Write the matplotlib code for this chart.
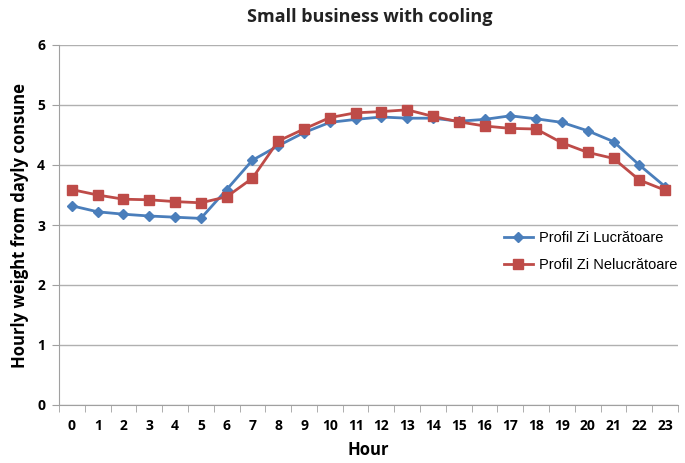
import matplotlib
matplotlib.use("Agg")
import matplotlib.pyplot as plt
import numpy as np

hours = list(range(24))
hour_labels = [str(h) for h in hours]
lucratoare = [3.32, 3.22, 3.18, 3.15, 3.13, 3.11, 3.59, 4.08, 4.32, 4.54, 4.71, 4.76,
              4.80, 4.78, 4.78, 4.73, 4.76, 4.82, 4.77, 4.71, 4.57, 4.39, 4.00, 3.64]
nelucratoare = [3.59, 3.50, 3.43, 3.42, 3.39, 3.37, 3.47, 3.78, 4.40, 4.60, 4.79, 4.87,
                4.89, 4.92, 4.81, 4.72, 4.65, 4.61, 4.60, 4.37, 4.21, 4.11, 3.75, 3.58]
series_names = ["Profil Zi Lucrătoare", "Profil Zi Nelucrătoare"]
yticks = [0, 1, 2, 3, 4, 5, 6]

fig = plt.figure(figsize=(6.85, 4.63), dpi=100)
ax = fig.add_axes([59/685, 1-405/463, 619/685, 360/463])

blue = "#4A7EBB"
red = "#BE4B48"
ax.plot(hours, lucratoare, color=blue, marker="D", markersize=5, lw=2, label=series_names[0], zorder=3)
ax.plot(hours, nelucratoare, color=red, marker="s", markersize=7, lw=2, label=series_names[1], zorder=4)

ax.set_xlim(-0.5, 23.5)
ax.set_ylim(0, 6)
ax.set_yticks(yticks)
ax.set_xticks(hours)
ax.set_xticklabels(hour_labels)
ax.set_xticks(np.arange(-0.5, 24, 1), minor=True)
ax.tick_params(axis="x", which="major", length=0, pad=10)
ax.tick_params(axis="x", which="minor", length=5, color="#a0a0a0", direction="out")
ax.tick_params(axis="y", length=5, color="#a0a0a0", pad=5)
for lab in ax.get_xticklabels() + ax.get_yticklabels():
    lab.set_fontweight("bold")
    lab.set_fontsize(10)
    lab.set_family("Open Sans")

ax.grid(axis="y", color="#b0b0b0", lw=1)
ax.set_axisbelow(True)
for s in ["top", "right"]:
    ax.spines[s].set_visible(False)
ax.spines["left"].set_color("#a0a0a0")
ax.spines["bottom"].set_color("#a0a0a0")

ax.set_xlabel("Hour", fontsize=12, fontweight="bold", family="Open Sans", labelpad=6)
ax.set_ylabel("Hourly weight from dayly consune", fontsize=12, fontweight="bold", family="Open Sans", labelpad=6)
fig.text(370/685, 1-17/463, "Small business with cooling", ha="center", va="center",
         fontsize=13, fontweight="bold", family="Open Sans", color="#222222")

fig.legend(loc="upper left", bbox_to_anchor=(498/685, 1-225/463), frameon=False,
           prop={"family": "Liberation Sans", "size": 10.5}, handlelength=2.0,
           handletextpad=0.4, labelspacing=0.9, borderaxespad=0)

fig.savefig("out.png", dpi=100)
